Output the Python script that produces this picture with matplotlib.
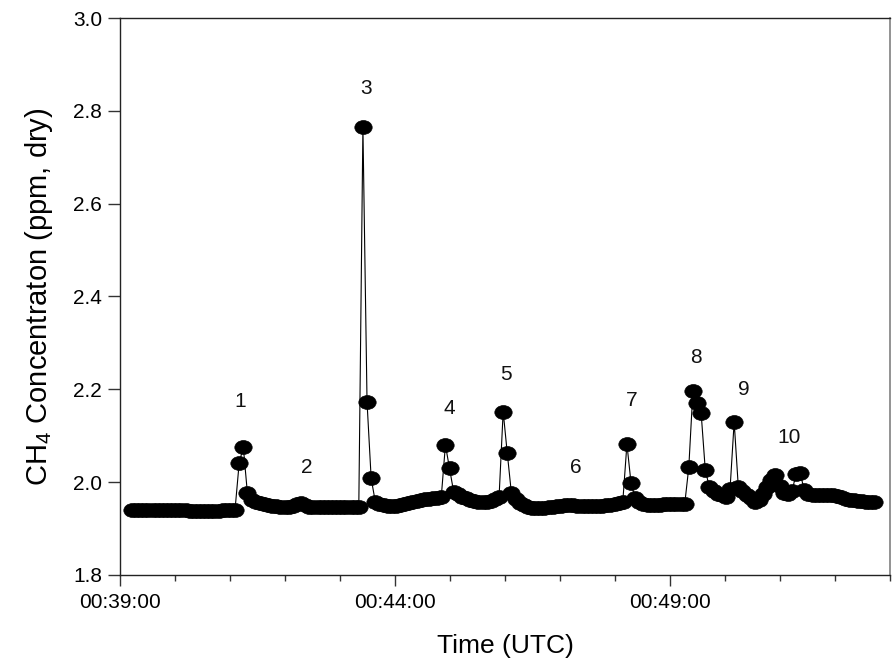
import numpy as np
import matplotlib
matplotlib.use("Agg")
import matplotlib.pyplot as plt
from matplotlib.ticker import MultipleLocator, FuncFormatter
from matplotlib.path import Path

plt.rcParams['font.family'] = ['Liberation Sans', 'DejaVu Sans']
plt.rcParams['mathtext.default'] = 'regular'

# sampling: seconds after 00:39:00
start_s = 13.0
step_s = 4.5

ch4_ppm = [
    1.940, 1.940, 1.939, 1.939, 1.940, 1.940, 1.940, 1.941, 1.941, 1.940,
    1.940, 1.940, 1.939, 1.939, 1.938, 1.938, 1.938, 1.938, 1.938, 1.938,
    1.938, 1.938, 1.939, 1.939, 1.940, 1.941,
    2.041, 2.076, 1.976, 1.962, 1.958, 1.955, 1.952, 1.950, 1.949, 1.948,
    1.947, 1.947, 1.947, 1.949, 1.953, 1.955, 1.951, 1.947, 1.946, 1.946,
    1.946, 1.946, 1.946, 1.946, 1.946, 1.946, 1.946, 1.946, 1.946, 1.946,
    2.765, 2.172, 2.008, 1.958, 1.953, 1.950, 1.949, 1.948, 1.949, 1.951,
    1.953, 1.955, 1.957, 1.959, 1.961, 1.963, 1.964, 1.965, 1.966, 1.969,
    2.080, 2.030, 1.979, 1.974, 1.969, 1.965, 1.962, 1.960, 1.958, 1.957,
    1.958, 1.960, 1.963, 1.967,
    2.152, 2.062, 1.976, 1.963, 1.956, 1.951, 1.947, 1.945, 1.944, 1.944,
    1.945, 1.946, 1.947, 1.948, 1.949, 1.950, 1.950, 1.950, 1.949, 1.949,
    1.949, 1.949, 1.949, 1.949, 1.949, 1.950, 1.951, 1.953, 1.955, 1.958,
    2.082, 1.998, 1.965, 1.958, 1.953, 1.951, 1.951, 1.951, 1.951, 1.952,
    1.953, 1.953, 1.954, 1.954, 1.952,
    2.032, 2.197, 2.170, 2.148, 2.026, 1.989, 1.980, 1.975, 1.972, 1.969,
    1.985, 2.130, 1.990, 1.980, 1.972, 1.965, 1.958, 1.962, 1.975, 1.990,
    2.005, 2.015, 1.992, 1.977, 1.975, 1.980, 2.017, 2.019, 1.983, 1.975,
    1.972, 1.972, 1.972, 1.972, 1.972, 1.972, 1.970, 1.967, 1.964, 1.962,
    1.961, 1.960, 1.959, 1.958, 1.958, 1.958,
]

peak_labels = ["1", "2", "3", "4", "5", "6", "7", "8", "9", "10"]
peak_label_t = [131, 204, 268, 359, 421, 497, 558, 628, 681, 730]
peak_label_v = [2.173, 2.031, 2.849, 2.158, 2.233, 2.031, 2.177, 2.268, 2.199, 2.097]

t = start_s + step_s * np.arange(len(ch4_ppm))

# slightly flattened circle marker (as in the original)
circ = Path.unit_circle()
ellipse_marker = Path(circ.vertices * np.array([1.0, 0.8]), circ.codes)

fig = plt.figure(figsize=(8.93, 6.63), dpi=100)
ax = fig.add_axes([120 / 893, 1 - 575 / 663, 770 / 893, 557 / 663])

ax.plot(t, ch4_ppm, color='black', lw=0.8, marker=ellipse_marker, ms=12.5,
        mfc='black', mec='black', mew=0.5)

for lab, tx, vy in zip(peak_labels, peak_label_t, peak_label_v):
    ax.text(tx, vy, lab, ha='center', va='center', fontsize=15, color='#111111')

ax.set_xlim(0, 840)
ax.set_ylim(1.8, 3.0)
ax.xaxis.set_major_locator(MultipleLocator(300))
ax.xaxis.set_minor_locator(MultipleLocator(60))
ax.yaxis.set_major_locator(MultipleLocator(0.2))


def fmt_time(s, pos):
    total = int(round(s)) + 39 * 60
    return "00:%02d:%02d" % (total // 60, total % 60)


ax.xaxis.set_major_formatter(FuncFormatter(fmt_time))
ax.yaxis.set_major_formatter(FuncFormatter(lambda v, p: "%.1f" % v))

ax.tick_params(axis='x', which='major', direction='out', length=8, width=1,
               labelsize=15, pad=5, color='#333333')
ax.tick_params(axis='x', which='minor', direction='out', length=4.3, width=1,
               color='#333333')
ax.tick_params(axis='y', which='major', direction='out', length=8.5, width=1,
               labelsize=15, pad=4.3, color='#333333')
ax.tick_params(top=False, right=False)

for side in ['left', 'bottom', 'top']:
    ax.spines[side].set_color('#222222')
    ax.spines[side].set_linewidth(1)
ax.spines['right'].set_color('#808080')
ax.spines['right'].set_linewidth(1.2)

ax.set_xlabel('Time (UTC)', fontsize=19, labelpad=16)
ax.set_ylabel('CH$_4$ Concentraton (ppm, dry)', fontsize=21, labelpad=13)

fig.savefig('out.png', dpi=100)
